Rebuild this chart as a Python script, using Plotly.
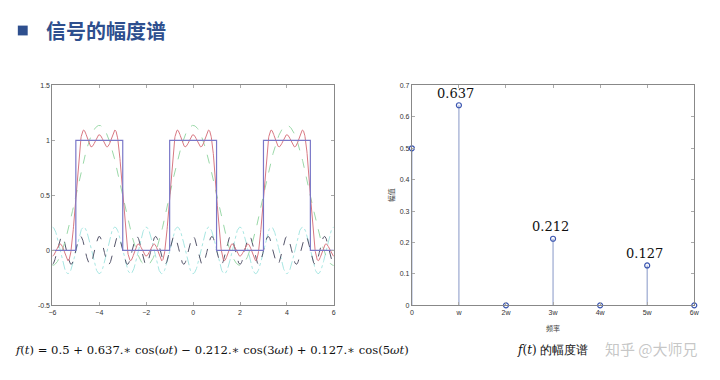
import numpy as np
import plotly.graph_objects as go

# ---- data ----
dc_term = 0.5
harmonic_orders = [1, 3, 5]
harmonic_coefs = [0.637, -0.212, 0.127]
period = 4.0
pulse_edges = [-5, -3, -1, 1, 3, 5]          # square wave edges (high between pairs)
t_range = [-6, 6]

freq_labels = ["0", "w", "2w", "3w", "4w", "5w", "6w"]
amplitudes = [0.5, 0.637, 0.0, 0.212, 0.0, 0.127, 0.0]
annot_labels = {1: "0.637", 3: "0.212", 5: "0.127"}

left_xticks = [-6, -4, -2, 0, 2, 4, 6]
left_yticks = [-0.5, 0, 0.5, 1, 1.5]
right_yticks = [0, 0.1, 0.2, 0.3, 0.4, 0.5, 0.6, 0.7]

# ---- curves ----
w = 2 * np.pi / period
t = np.linspace(t_range[0], t_range[1], 1201)
terms = [c * np.cos(n * w * t) for n, c in zip(harmonic_orders, harmonic_coefs)]
partial_sum = dc_term + sum(terms)
fundamental = dc_term + terms[0]

sq_x = [t_range[0]]
sq_y = [0]
for i in range(0, len(pulse_edges), 2):
    a, b = pulse_edges[i], pulse_edges[i + 1]
    sq_x += [a, a, b, b]
    sq_y += [0, 1, 1, 0]
sq_x.append(t_range[1]); sq_y.append(0)

fig = go.Figure()
fig.add_trace(go.Scatter(x=t, y=terms[1], mode="lines", xaxis="x", yaxis="y",
                         line=dict(color="#a8e6e2", width=1, dash="dashdot"), showlegend=False))
fig.add_trace(go.Scatter(x=t, y=terms[2], mode="lines", xaxis="x", yaxis="y",
                         line=dict(color="#55556a", width=1, dash="dash"), showlegend=False))
fig.add_trace(go.Scatter(x=t, y=fundamental, mode="lines", xaxis="x", yaxis="y",
                         line=dict(color="#9ad8a8", width=1, dash="dash"), showlegend=False))
fig.add_trace(go.Scatter(x=t, y=partial_sum, mode="lines", xaxis="x", yaxis="y",
                         line=dict(color="#d87882", width=1), showlegend=False))
fig.add_trace(go.Scatter(x=sq_x, y=sq_y, mode="lines", xaxis="x", yaxis="y",
                         line=dict(color="#7a78c8", width=1.2), showlegend=False))

# ---- stem plot ----
xs = list(range(len(freq_labels)))
stem_x, stem_y = [], []
for x, a in zip(xs, amplitudes):
    stem_x += [x, x, None]
    stem_y += [0, a, None]
fig.add_trace(go.Scatter(x=stem_x, y=stem_y, mode="lines", xaxis="x2", yaxis="y2",
                         line=dict(color="#9aa8d0", width=1.2), showlegend=False, cliponaxis=False))
fig.add_trace(go.Scatter(x=xs, y=amplitudes, mode="markers", xaxis="x2", yaxis="y2",
                         marker=dict(symbol="circle-open", size=5, color="#3a55b0",
                                     line=dict(width=1.2, color="#3a55b0")),
                         showlegend=False, cliponaxis=False))

axis_common = dict(showgrid=False, zeroline=False, showline=True, linecolor="#888888",
                   linewidth=1, mirror="ticks", ticks="inside", ticklen=3,
                   tickcolor="#aaaaaa", tickfont=dict(size=7, color="#333333",
                                                      family="Liberation Sans"))

fig.update_layout(
    width=720, height=380,
    margin=dict(l=0, r=0, t=0, b=0),
    paper_bgcolor="white", plot_bgcolor="white",
    xaxis=dict(domain=[49/720, 334/720], range=t_range, tickvals=left_xticks, anchor="y",
               **axis_common),
    yaxis=dict(domain=[1-307/380, 1-83/380], range=[-0.5, 1.5], tickvals=left_yticks,
               ticktext=["-0.5", "0", "0.5", "1", "1.5"], anchor="x", **axis_common),
    xaxis2=dict(domain=[413/720, 699/720], range=[0, 6], tickvals=xs, ticktext=freq_labels,
                anchor="y2", **axis_common),
    yaxis2=dict(domain=[1-307/380, 1-83/380], range=[0, 0.7], tickvals=right_yticks,
                ticktext=[f"{v:g}" for v in right_yticks], anchor="x2", **axis_common),
)

annotations = []
for i, txt in annot_labels.items():
    annotations.append(dict(x=xs[i], y=amplitudes[i], xref="x2", yref="y2", text=txt,
                            showarrow=False, yshift=12, xshift=-3,
                            font=dict(family="DejaVu Serif", size=13, color="#111111")))
# axis titles
annotations.append(dict(x=3, y=0, xref="x2", yref="y2", text="频率", showarrow=False,
                        yshift=-23, font=dict(family="Noto Sans CJK SC", size=7, color="#444444")))
annotations.append(dict(x=0, y=0.35, xref="x2", yref="y2", text="幅值", showarrow=False,
                        xshift=-20, textangle=-90,
                        font=dict(family="Noto Sans CJK SC", size=7, color="#444444")))
# title
annotations.append(dict(x=40/720, y=1-27/380, xref="paper", yref="paper", text="<b>信号的幅度谱</b>",
                        showarrow=False, xanchor="left", yanchor="middle",
                        font=dict(family="Noto Sans CJK SC", size=20, color="#2e4f8e")))
# formula
annotations.append(dict(x=9/720, y=1-353/380, xref="paper", yref="paper",
                        text="<i>f</i>(<i>t</i>) = 0.5 + 0.637.∗ cos(<i>ωt</i>) − 0.212.∗ cos(3<i>ωt</i>) + 0.127.∗ cos(5<i>ωt</i>)",
                        showarrow=False, xanchor="left", yanchor="middle",
                        font=dict(family="DejaVu Serif", size=11.6, color="#111111")))
annotations.append(dict(x=517/720, y=1-353/380, xref="paper", yref="paper",
                        text="<i>f</i>(<i>t</i>) 的幅度谱",
                        showarrow=False, xanchor="left", yanchor="middle",
                        font=dict(family="DejaVu Serif", size=12, color="#111111")))
annotations.append(dict(x=705/720, y=1-351/380, xref="paper", yref="paper",
                        text="知乎 @大师兄", showarrow=False, xanchor="right", yanchor="middle",
                        font=dict(family="Noto Sans CJK SC", size=15, color="rgba(150,150,150,0.55)")))
fig.update_layout(annotations=annotations)

fig.add_shape(type="rect", xref="paper", yref="paper",
              x0=14/720, x1=24/720, y0=1-32/380, y1=1-22/380,
              fillcolor="#2e4f8e", line=dict(width=0))

fig.write_html("out.html", config={"displayModeBar": False})

# remove the default page margin so the 720x380 figure fills the window exactly
with open("out.html", "r", encoding="utf-8") as f:
    html = f.read()
html = html.replace("<head>", "<head><style>html,body{margin:0;padding:0;overflow:hidden;}</style>", 1)
with open("out.html", "w", encoding="utf-8") as f:
    f.write(html)
